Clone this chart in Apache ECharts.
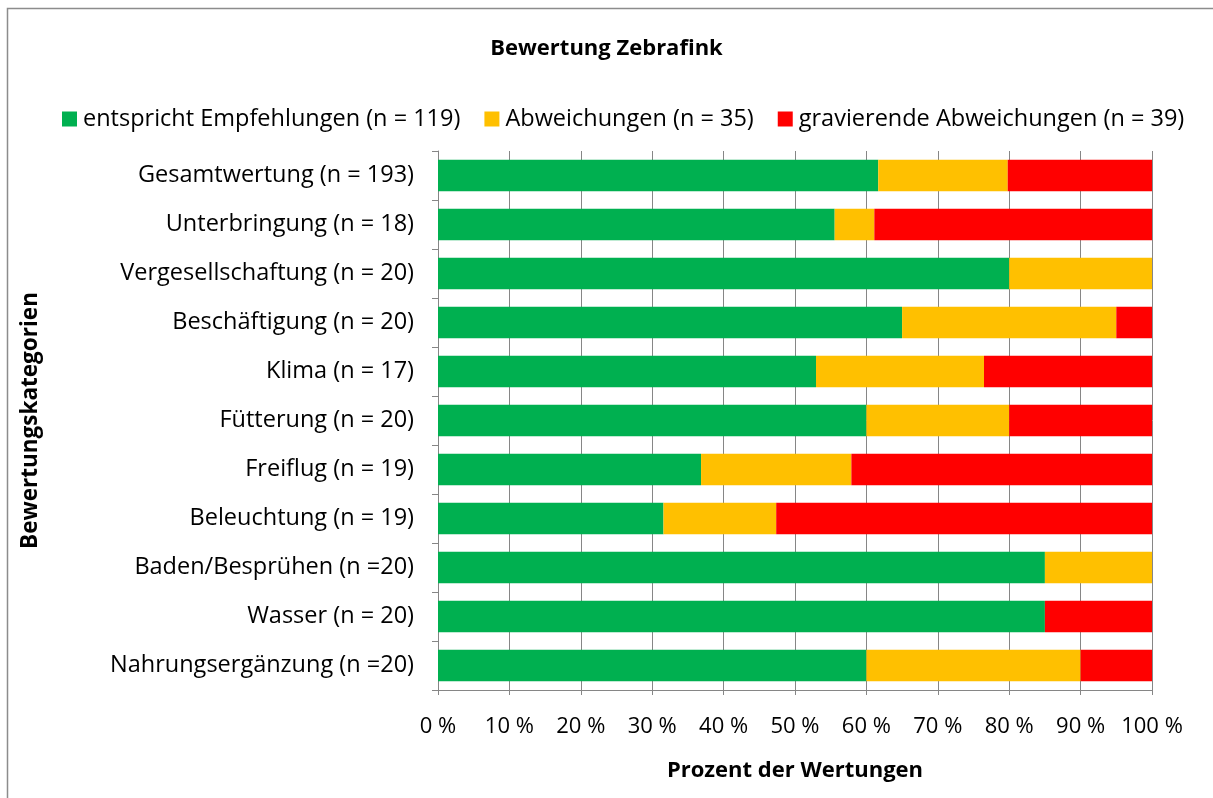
<!DOCTYPE html>
<html><head><meta charset="utf-8">
<style>html,body{margin:0;padding:0;background:#fff}#c{width:1213px;height:798px}</style>
<script src="https://cdn.jsdelivr.net/npm/echarts@6/dist/echarts.min.js"></script>
</head><body><div id="c"></div>
<script>
const categories = ["Gesamtwertung (n = 193)","Unterbringung (n = 18)","Vergesellschaftung (n = 20)","Beschäftigung (n = 20)","Klima (n = 17)","Fütterung (n = 20)","Freiflug (n = 19)","Beleuchtung (n = 19)","Baden/Besprühen (n =20)","Wasser (n = 20)","Nahrungsergänzung (n =20)"];
const seriesNames = ["entspricht Empfehlungen (n = 119)","Abweichungen (n = 35)","gravierende Abweichungen (n = 39)"];
const countsGreen = [119,10,16,13,9,12,7,6,17,17,12];
const countsYellow = [35,1,4,6,4,4,4,3,3,0,6];
const countsRed = [39,7,0,1,4,4,8,10,0,3,2];
const xTicks = [0,10,20,30,40,50,60,70,80,90,100];
const colors = ["#00B050","#FFC000","#FF0000"];

const totals = categories.map((c,i)=>countsGreen[i]+countsYellow[i]+countsRed[i]);
const pct = arr => arr.map((v,i)=>v/totals[i]*100);
const font = "'Open Sans', sans-serif";
const gray = "#868686";

const chart = echarts.init(document.getElementById('c'));
chart.setOption({
  animation:false,
  title:{text:"Bewertung Zebrafink",left:'center',top:33,textStyle:{fontFamily:font,fontSize:22,fontWeight:'bold',color:'#000'}},
  legend:{top:102,left:57,itemWidth:15,itemHeight:15,itemGap:24,icon:'rect',
    textStyle:{fontFamily:font,fontSize:23.5,color:'#000',padding:[0,0,0,1]},data:seriesNames},
  grid:{left:438,right:61,top:151,bottom:108,containLabel:false},
  xAxis:{type:'value',min:0,max:100,interval:10,
    axisLine:{show:true,lineStyle:{color:gray}},
    axisTick:{show:true,length:5,lineStyle:{color:gray}},
    splitLine:{show:true,lineStyle:{color:gray,width:1}},
    axisLabel:{formatter:v=>v+' %',fontFamily:font,fontSize:22,color:'#000',margin:26},
    name:"Prozent der Wertungen",nameLocation:'middle',nameGap:70,
    nameTextStyle:{fontFamily:font,fontSize:22,fontWeight:'bold',color:'#000'}},
  yAxis:{type:'category',inverse:true,data:categories,
    axisLine:{show:true,lineStyle:{color:gray}},
    axisTick:{show:true,length:6,lineStyle:{color:gray}},
    axisLabel:{fontFamily:font,fontSize:23.5,color:'#000',margin:24},
    name:"Bewertungskategorien",nameLocation:'middle',nameGap:396,nameRotate:90,
    nameTextStyle:{fontFamily:font,fontSize:22.5,fontWeight:'bold',color:'#000'}},
  series:[countsGreen,countsYellow,countsRed].map((arr,k)=>({
    name:seriesNames[k],type:'bar',stack:'all',barWidth:'64%',
    itemStyle:{color:colors[k]},data:pct(arr)
  })),
  graphic:[{type:'rect',shape:{x:7.5,y:8.5,width:1220,height:800},style:{fill:null,stroke:'#8c8c8c',lineWidth:1.5},silent:true}]
});
</script></body></html>
